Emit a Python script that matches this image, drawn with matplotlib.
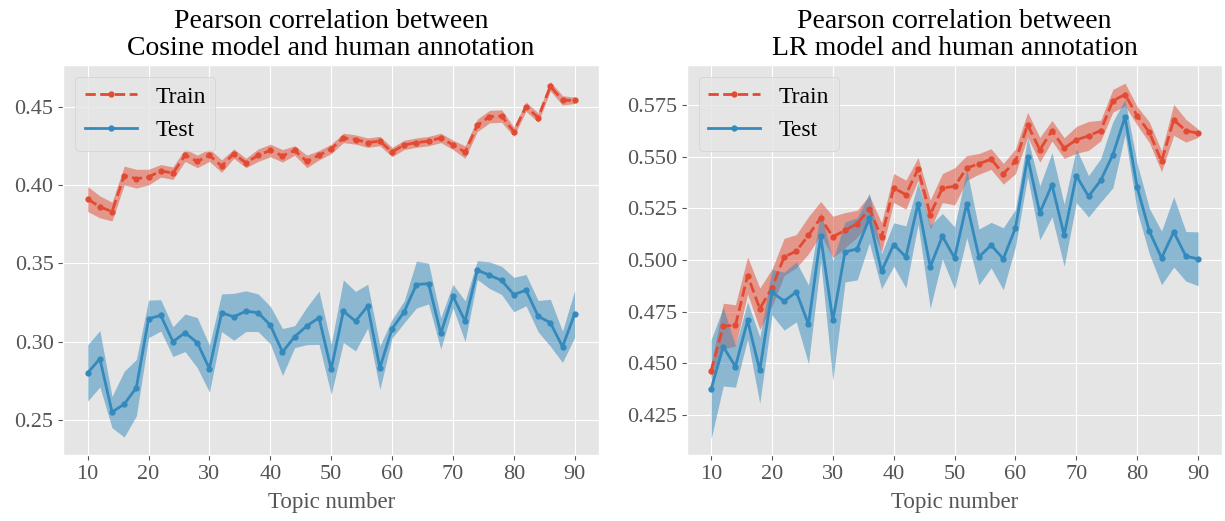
import numpy as np
import matplotlib
matplotlib.use("Agg")
import matplotlib.pyplot as plt

plt.style.use("ggplot")
plt.rcParams["font.family"] = ["Liberation Serif", "DejaVu Serif"]

topics = list(range(10, 91, 2))

# Cosine model
cos_train = [0.391, 0.386, 0.383, 0.406, 0.404, 0.405, 0.409, 0.4075, 0.419, 0.415,
             0.419, 0.412, 0.420, 0.414, 0.419, 0.422, 0.4186, 0.422, 0.415, 0.419,
             0.423, 0.430, 0.429, 0.427, 0.428, 0.421, 0.4256, 0.427, 0.428, 0.430,
             0.4256, 0.421, 0.438, 0.4436, 0.444, 0.434, 0.450, 0.443, 0.463, 0.454,
             0.454]
cos_train_err = [0.008, 0.007, 0.006, 0.006, 0.006, 0.005, 0.004, 0.004, 0.004, 0.004,
                 0.004, 0.004, 0.003, 0.003, 0.004, 0.004, 0.004, 0.003, 0.004, 0.003,
                 0.003, 0.003, 0.003, 0.003, 0.003, 0.003, 0.003, 0.003, 0.003, 0.003,
                 0.003, 0.004, 0.004, 0.004, 0.004, 0.003, 0.003, 0.003, 0.003, 0.003,
                 0.002]
cos_test = [0.280, 0.289, 0.255, 0.260, 0.2706, 0.3145, 0.3167, 0.300, 0.3056, 0.2993,
            0.2827, 0.3184, 0.3158, 0.3194, 0.3184, 0.3105, 0.2933, 0.3031, 0.310, 0.3152,
            0.2823, 0.3194, 0.313, 0.3226, 0.2833, 0.3082, 0.319, 0.3364, 0.337, 0.3052,
            0.329, 0.313, 0.3456, 0.3424, 0.339, 0.330, 0.3328, 0.3162, 0.312, 0.2967,
            0.3177]
cos_test_err = [0.018, 0.018, 0.010, 0.021, 0.018, 0.012, 0.010, 0.0095, 0.012, 0.016,
                0.015, 0.012, 0.015, 0.013, 0.012, 0.012, 0.015, 0.007, 0.012, 0.017,
                0.016, 0.020, 0.019, 0.014, 0.014, 0.006, 0.007, 0.015, 0.013, 0.010,
                0.0075, 0.013, 0.006, 0.0085, 0.009, 0.011, 0.010, 0.010, 0.015, 0.010,
                0.015]

# LR model
lr_train = [0.4464, 0.4681, 0.4684, 0.4925, 0.4765, 0.4866, 0.5015, 0.5043, 0.512, 0.5203,
            0.5112, 0.5144, 0.5176, 0.5247, 0.511, 0.5348, 0.5316, 0.544, 0.522, 0.5348,
            0.5356, 0.5445, 0.5465, 0.5488, 0.5417, 0.5477, 0.5654, 0.5533, 0.5625, 0.5541,
            0.5581, 0.560, 0.5626, 0.577, 0.580, 0.5697, 0.5617, 0.5477, 0.5678, 0.5625,
            0.5613]
lr_train_err = [0.003, 0.011, 0.010, 0.009, 0.010, 0.009, 0.009, 0.008, 0.009, 0.008,
                0.010, 0.0085, 0.0065, 0.0065, 0.007, 0.007, 0.007, 0.0055, 0.007, 0.007,
                0.009, 0.006, 0.005, 0.005, 0.005, 0.006, 0.006, 0.006, 0.005, 0.005,
                0.0065, 0.007, 0.005, 0.0055, 0.0055, 0.0045, 0.005, 0.005, 0.0075, 0.0055,
                0.002]
lr_test = [0.4375, 0.4581, 0.4485, 0.4708, 0.4467, 0.4845, 0.4801, 0.4846, 0.4689, 0.5115,
           0.4708, 0.5039, 0.5054, 0.5203, 0.4946, 0.5075, 0.5015, 0.5273, 0.4967, 0.5115,
           0.501, 0.5273, 0.5015, 0.5072, 0.5006, 0.5155, 0.5498, 0.5228, 0.5364, 0.512,
           0.5408, 0.5308, 0.5385, 0.5509, 0.5691, 0.5351, 0.5139, 0.501, 0.5136, 0.5018,
           0.5006]
lr_test_err = [0.024, 0.019, 0.010, 0.009, 0.016, 0.011, 0.014, 0.0145, 0.019, 0.012,
               0.029, 0.0145, 0.015, 0.012, 0.0085, 0.0105, 0.015, 0.010, 0.020, 0.011,
               0.015, 0.0165, 0.0135, 0.011, 0.015, 0.009, 0.0095, 0.013, 0.0155, 0.015,
               0.013, 0.010, 0.0105, 0.016, 0.0085, 0.0115, 0.011, 0.013, 0.017, 0.012,
               0.013]

titles = ["Pearson correlation between\nCosine model and human annotation",
          "Pearson correlation between\nLR model and human annotation"]

red = "#E24A33"
blue = "#348ABD"


def draw(ax, train, train_err, test, test_err, title, ylim, yticks, fmt):
    x = np.array(topics)
    tr, tre = np.array(train), np.array(train_err)
    te, tee = np.array(test), np.array(test_err)
    ax.plot(x, tr, color=red, ls="--", marker=".", ms=7, lw=2, label="Train")
    ax.fill_between(x, tr - tre, tr + tre, color=red, alpha=0.5, lw=0)
    ax.plot(x, te, color=blue, ls="-", marker=".", ms=7, lw=2, label="Test")
    ax.fill_between(x, te - tee, te + tee, color=blue, alpha=0.5, lw=0)
    ax.set_xlim(6, 94)
    ax.set_ylim(*ylim)
    ax.set_xticks(range(10, 91, 10))
    ax.set_yticks(yticks)
    ax.set_yticklabels([fmt.format(v) for v in yticks])
    ax.tick_params(labelsize=16, colors="#555555")
    ax.set_xlabel("Topic number", fontsize=16.5, color="#555555", labelpad=6)
    ax.set_title(title, fontsize=20, color="black", linespacing=1.12, pad=7)
    leg = ax.legend(loc="upper left", fontsize=17, handlelength=2.2)
    for t in leg.get_texts():
        t.set_color("black")


fig = plt.figure(figsize=(12.25, 5.21), dpi=100)
ax1 = fig.add_axes([0.0517, 0.1265, 0.4373, 0.7488])
ax2 = fig.add_axes([0.5606, 0.1265, 0.4373, 0.7488])

draw(ax1, cos_train, cos_train_err, cos_test, cos_test_err, titles[0],
     (0.2275, 0.4766), [0.25, 0.30, 0.35, 0.40, 0.45], "{:.2f}")
draw(ax2, lr_train, lr_train_err, lr_test, lr_test_err, titles[1],
     (0.4057, 0.5943), [0.425, 0.45, 0.475, 0.5, 0.525, 0.55, 0.575], "{:.3f}")

fig.savefig("out.png", dpi=100)
